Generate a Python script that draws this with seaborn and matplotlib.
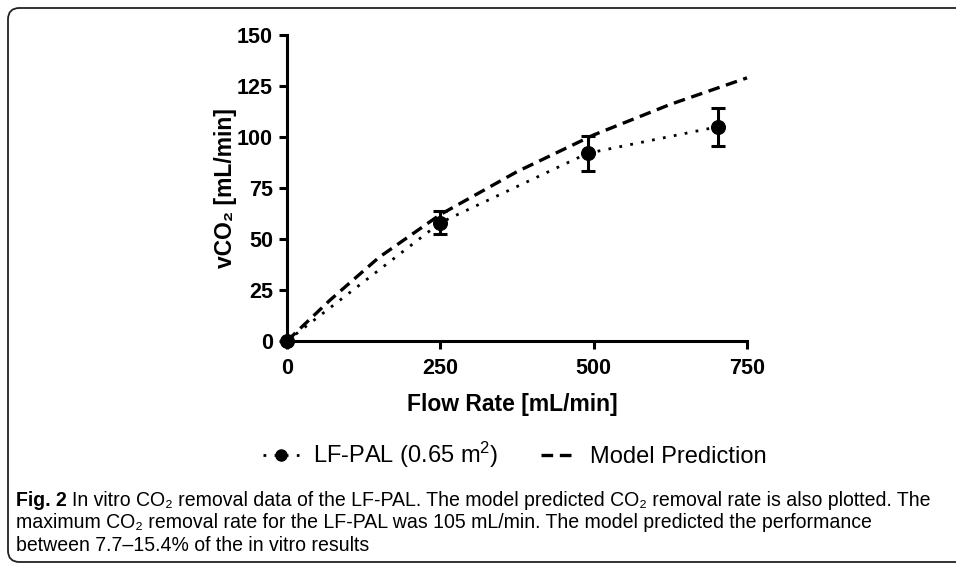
import matplotlib
matplotlib.use("Agg")
import matplotlib.pyplot as plt
import pandas as pd
import seaborn as sns
from matplotlib.lines import Line2D
from matplotlib.patches import FancyBboxPatch

flow_rate = [0, 250, 490, 702]
vco2 = [0, 58, 92, 105]
vco2_err = [0, 5.5, 8.5, 9.3]

# model prediction curve
model_flow = [0, 70, 150, 250, 375, 500, 625, 750]
model_vco2 = [0, 20, 41, 62, 83, 101, 116, 129]

legend_labels = ["LF-PAL (0.65 m$^2$)", "Model Prediction"]
caption = [
    "In vitro CO₂ removal data of the LF-PAL. The model predicted CO₂ removal rate is also plotted. The",
    "maximum CO₂ removal rate for the LF-PAL was 105 mL/min. The model predicted the performance",
    "between 7.7–15.4% of the in vitro results",
]

sns.set_theme(style="ticks")
plt.rcParams["font.family"] = ["Liberation Sans", "DejaVu Sans"]
plt.rcParams["mathtext.fontset"] = "custom"
plt.rcParams["mathtext.rm"] = "Liberation Sans"
plt.rcParams["mathtext.default"] = "regular"
plt.rcParams["text.color"] = "black"
plt.rcParams["axes.labelcolor"] = "black"

W, H = 956, 564
fig = plt.figure(figsize=(W / 100, H / 100), dpi=100)
ax = fig.add_axes([287 / W, 1 - 341 / H, 460 / W, 306 / H])

data = pd.DataFrame({"flow": flow_rate, "vco2": vco2})
model = pd.DataFrame({"flow": model_flow, "vco2": model_vco2})

dash = (0, (3.5, 2.0))
dots = (0, (1, 3))

sns.lineplot(data=model, x="flow", y="vco2", ax=ax, color="black",
             linestyle=dash, linewidth=2.4, clip_on=False, legend=False)
sns.lineplot(data=data, x="flow", y="vco2", ax=ax, color="black",
             linestyle=dots, linewidth=2.0, clip_on=False, legend=False)
ax.errorbar(flow_rate, vco2, yerr=vco2_err, fmt="none", ecolor="black",
            elinewidth=2.2, capsize=5, capthick=2.2, clip_on=False)
sns.scatterplot(data=data, x="flow", y="vco2", ax=ax, color="black", s=100,
                edgecolor="black", zorder=5, clip_on=False, legend=False)

ax.set_xlim(0, 750)
ax.set_ylim(0, 150)
ax.set_xticks([0, 250, 500, 750])
ax.set_yticks([0, 25, 50, 75, 100, 125, 150])
for s in ["top", "right"]:
    ax.spines[s].set_visible(False)
for s in ["left", "bottom"]:
    ax.spines[s].set_linewidth(2.2)
    ax.spines[s].set_color("black")
ax.tick_params(width=2.2, length=6, labelsize=15.5, colors="black", pad=4)
ax.tick_params(axis="x", pad=6)
for lbl in ax.get_xticklabels() + ax.get_yticklabels():
    lbl.set_fontweight("bold")
ax.set_xlabel("Flow Rate [mL/min]", fontsize=16.5, fontweight="bold", labelpad=13)
ax.set_ylabel("vCO₂ [mL/min]", fontsize=16.5, fontweight="bold", labelpad=0)
ax.xaxis.set_label_coords(0.49, -0.17)

# legend below the plot
h_data = Line2D([], [], color="black", linestyle=dots, linewidth=2.0,
                marker="o", markersize=8)
h_model = Line2D([], [], color="black", linestyle=dash, linewidth=2.4)
fig.legend([h_data, h_model], legend_labels,
           loc="center", bbox_to_anchor=(515 / W, 1 - 455 / H), ncol=2,
           frameon=False, fontsize=17, handlelength=1.5, columnspacing=1.8,
           handletextpad=0.6)

# caption
cap_size = 14.05
t1 = fig.text(16 / W, 1 - 500 / H, "Fig. 2", fontsize=cap_size, fontweight="bold",
              va="center", ha="left")
fig.canvas.draw()
bb = t1.get_window_extent()
fig.text((bb.x1 + 5) / W, 1 - 500 / H, caption[0], fontsize=cap_size,
         va="center", ha="left")
for i, line in enumerate(caption[1:]):
    fig.text(16 / W, 1 - (523 + 22.5 * i) / H, line, fontsize=cap_size,
             va="center", ha="left")

# rounded frame
frame = FancyBboxPatch((8 / W, 2 / H), 1.2, 1 - 10 / H,
                       boxstyle="round,pad=0,rounding_size=0.012",
                       transform=fig.transFigure, fill=False,
                       edgecolor="#222222", linewidth=1.3, mutation_aspect=W / H)
fig.patches.append(frame)

fig.savefig("out.png", dpi=100)
